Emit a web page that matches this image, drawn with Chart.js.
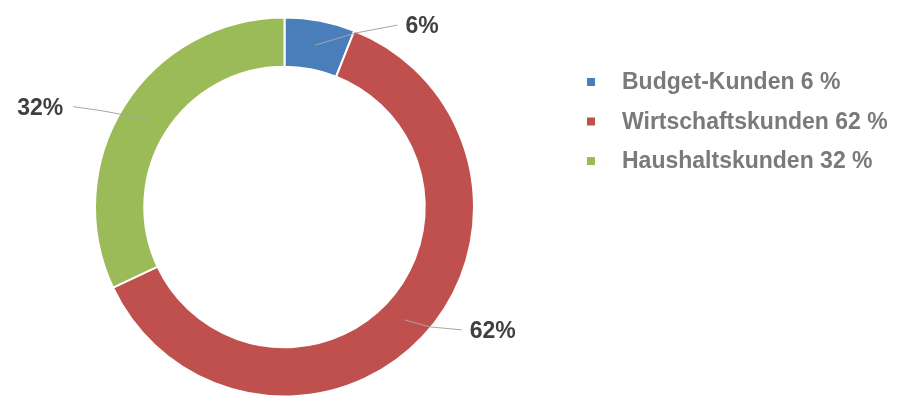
<!DOCTYPE html>
<html>
<head>
    <title></title>
    <meta charset="utf-8" />
    <style>
        body { margin: 0; overflow: hidden; background: #fff; }
    </style>
    <script src="https://cdn.jsdelivr.net/npm/chart.js"></script>
</head>
<body>
    <canvas id="myChart" width="897" height="400"></canvas>
<script>
let labels = ['Budget-Kunden', 'Wirtschaftskunden', 'Haushaltskunden'];
let values = [6, 62, 32];
let colors = ['#4a7ebb', '#c0504d', '#9bbb59'];

// leader lines: elbow and end offsets from the middle of each ring slice
let leader = [[40, -12, 82, -20], [25, 7, 57, 10], [-44, -8, -72, -12]];

let sliceLabels = {
    id: 'sliceLabels',
    afterDatasetsDraw(chart) {
        let ctx = chart.ctx;
        let arcs = chart.getDatasetMeta(0).data;
        ctx.save();
        arcs.forEach((arc, i) => {
            let p = arc.getProps(['x', 'y', 'startAngle', 'endAngle', 'innerRadius', 'outerRadius'], true);
            let a = (p.startAngle + p.endAngle) / 2;
            let r = (p.innerRadius + p.outerRadius) / 2;
            let sx = p.x + Math.cos(a) * r, sy = p.y + Math.sin(a) * r;
            let o = leader[i];
            ctx.strokeStyle = '#a6a6a6';
            ctx.lineWidth = 1;
            ctx.beginPath();
            ctx.moveTo(sx, sy);
            ctx.lineTo(sx + o[0], sy + o[1]);
            ctx.lineTo(sx + o[2], sy + o[3]);
            ctx.stroke();
            ctx.fillStyle = '#404040';
            ctx.font = 'bold 23px "Liberation Sans", Arial, sans-serif';
            ctx.textBaseline = 'middle';
            let right = o[2] > 0;
            ctx.textAlign = right ? 'left' : 'right';
            ctx.fillText(values[i] + '%', sx + o[2] + (right ? 8 : -10), sy + o[3] + 2);
        });
        ctx.restore();
    }
};

let sideLegend = {
    id: 'sideLegend',
    afterDraw(chart) {
        let ctx = chart.ctx;
        ctx.save();
        ctx.font = 'bold 23px "Liberation Sans", Arial, sans-serif';
        ctx.textBaseline = 'middle';
        ctx.textAlign = 'left';
        labels.forEach((l, i) => {
            let y = 82 + i * 39.5;
            ctx.fillStyle = colors[i];
            ctx.fillRect(587, y - 4, 8, 8);
            ctx.fillStyle = '#7a7a7a';
            ctx.fillText(l + ' ' + values[i] + ' %', 622, y + 1);
        });
        ctx.restore();
    }
};

let ctx = document.getElementById('myChart').getContext('2d');
let myChart = new Chart(ctx, {
    type: 'doughnut',
    data: {
        labels: labels,
        datasets: [{
            data: values,
            backgroundColor: colors,
            borderColor: '#ffffff',
            borderWidth: 2
        }]
    },
    options: {
        responsive: false,
        animation: false,
        cutout: '74%',
        layout: { padding: { left: 94, right: 422, top: 16, bottom: 2 } },
        plugins: {
            legend: { display: false },
            tooltip: { enabled: false }
        }
    },
    plugins: [sliceLabels, sideLegend]
});
</script>
</body>
</html>
